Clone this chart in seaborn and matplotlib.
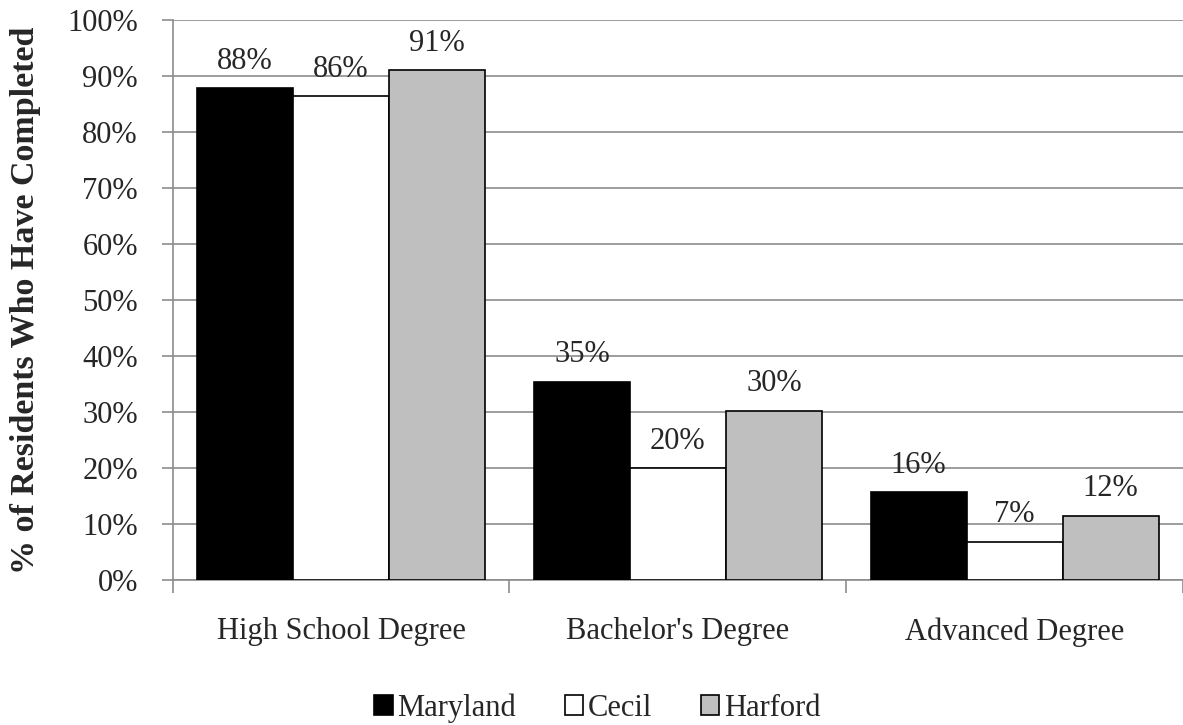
import pandas as pd
import matplotlib.pyplot as plt
import seaborn as sns
from matplotlib.ticker import PercentFormatter, MultipleLocator

# data
degrees = ["High School Degree", "Bachelor's Degree", "Advanced Degree"]
areas = ["Maryland", "Cecil", "Harford"]
maryland = [87.9, 35.4, 15.7]
cecil = [86.4, 20.0, 6.8]
harford = [91.1, 30.2, 11.5]
colors = ["#000000", "#ffffff", "#bfbfbf"]

df = pd.DataFrame({
    "Degree": degrees * 3,
    "Area": [a for a in areas for _ in degrees],
    "Pct": maryland + cecil + harford,
})

sns.set_theme(style="white")
plt.rcParams["font.family"] = ["Liberation Serif", "DejaVu Serif"]
FS = 22

fig = plt.figure(figsize=(11.83, 7.25), dpi=100)
ax = fig.add_axes([0.146, 0.2, 0.854, 0.772])

sns.barplot(data=df, x="Degree", y="Pct", hue="Area", order=degrees,
            hue_order=areas, palette=colors, width=0.855,
            edgecolor="black", linewidth=1.2, saturation=1, ax=ax, zorder=3)

for cont in ax.containers:
    ax.bar_label(cont, fmt="%.0f%%", padding=9, fontsize=FS)

ax.set_ylim(0, 100)
ax.set_xlim(-0.5, 2.5)
ax.yaxis.set_major_locator(MultipleLocator(10))
ax.yaxis.set_major_formatter(PercentFormatter(decimals=0))
ax.grid(axis="y", color="#8c8c8c", linewidth=1.2, zorder=0)
ax.set_axisbelow(True)

for s in ["top", "right"]:
    ax.spines[s].set_visible(False)
for s in ["left", "bottom"]:
    ax.spines[s].set_color("#8c8c8c")
    ax.spines[s].set_linewidth(1.2)

ax.set_xticks([0, 1, 2])
ax.set_xticklabels(degrees, fontsize=FS)
ax.tick_params(axis="x", length=0, pad=27)
ax.set_xticks([-0.5, 0.5, 1.5, 2.5], minor=True)
ax.tick_params(axis="x", which="minor", length=9, width=1.2, color="#8c8c8c",
               direction="out", bottom=True)
ax.tick_params(axis="y", labelsize=FS, length=8, width=1.2, color="#8c8c8c",
               direction="out", left=True, pad=17)

ax.set_xlabel("")
ax.set_ylabel("% of Residents Who Have Completed", fontsize=24.5,
              fontweight="bold", labelpad=19)

ax.get_legend().remove()
handles, labels = ax.get_legend_handles_labels()
fig.legend(handles, labels, loc="lower center", bbox_to_anchor=(0.505, -0.035),
           ncol=3, frameon=False, fontsize=FS, handlelength=0.6,
           handleheight=0.6, handletextpad=0.15, columnspacing=1.6)

plt.savefig("out.png", dpi=100)
plt.close()
